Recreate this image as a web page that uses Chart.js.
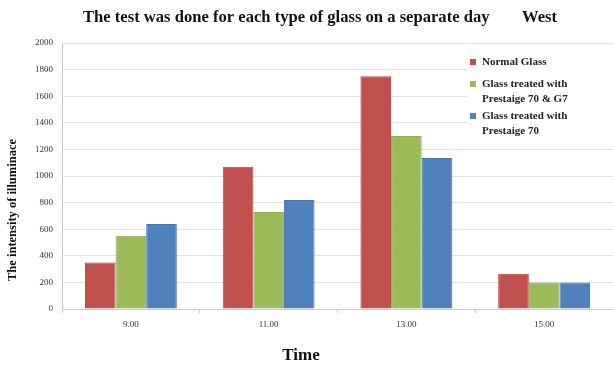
<!DOCTYPE html>
<html>
<head>
<meta charset="utf-8">
<script src="https://cdn.jsdelivr.net/npm/chart.js@4/dist/chart.umd.min.js"></script>
<style>
  html, body { margin: 0; padding: 0; background: #ffffff; }
  canvas { display: block; }
</style>
</head>
<body>
<canvas id="chart" width="613" height="368"></canvas>
<script>
// Time of measurement (x categories)
const categories = ['9.00', '11.00', '13.00', '15.00'];

// Illuminance readings per glass type
const normalGlass = [350, 1070, 1750, 265];
const treatedP70G7 = [550, 730, 1300, 200];
const treatedP70 = [640, 820, 1135, 200];

// Series names, split into the lines shown in the legend
const seriesNames = [
  ['Normal Glass'],
  ['Glass treated with', 'Prestaige 70 & G7'],
  ['Glass treated with', 'Prestaige 70']
];

// Y axis range and tick step
const yMin = 0;
const yMax = 2000;
const yStep = 200;

const titleText = 'The test was done for each type of glass on a separate day';
const titleSide = 'West';
const xTitle = 'Time';
const yTitle = 'The intensity of illuminace';

const colors = ['#C0504D', '#9BBB59', '#4F81BD'];
const borders = ['#b04642', '#8eae4d', '#4675ae'];
const serif = '"Liberation Serif", "Times New Roman", serif';

// Titles drawn around the plot
const textPlugin = {
  id: 'chartTexts',
  afterDraw(chart) {
    const ctx = chart.ctx;
    ctx.save();
    ctx.fillStyle = '#111';
    ctx.textBaseline = 'middle';
    ctx.textAlign = 'left';
    ctx.font = 'bold 16.6px ' + serif;
    ctx.fillText(titleText, 83, 18);
    ctx.fillText(titleSide, 522, 18);

    ctx.textAlign = 'center';
    ctx.font = 'bold 17px ' + serif;
    ctx.fillText(xTitle, 301, 356);

    ctx.translate(13, 210);
    ctx.rotate(-Math.PI / 2);
    ctx.font = 'bold 12.5px ' + serif;
    ctx.fillText(yTitle, 0, 0);
    ctx.restore();
  }
};

// Legend box in the upper right of the plot
const legendPlugin = {
  id: 'boxLegend',
  afterDatasetsDraw(chart) {
    const ctx = chart.ctx;
    ctx.save();
    ctx.fillStyle = '#ffffff';
    ctx.fillRect(467, 48, 146, 94);
    ctx.font = 'bold 11px ' + serif;
    ctx.textBaseline = 'middle';
    ctx.textAlign = 'left';
    const tops = [62, 84, 116];
    chart.data.datasets.forEach((ds, i) => {
      const y = tops[i];
      ctx.fillStyle = ds.backgroundColor;
      ctx.fillRect(470, y - 3, 6, 6);
      ctx.fillStyle = '#222';
      seriesNames[i].forEach((line, j) => {
        ctx.fillText(line, 482, y + j * 15);
      });
    });
    ctx.restore();
  }
};

const datasets = [normalGlass, treatedP70G7, treatedP70].map((values, i) => ({
  label: seriesNames[i].join(' '),
  data: values,
  backgroundColor: colors[i],
  borderColor: borders[i],
  borderWidth: 1,
  barPercentage: 1.0,
  categoryPercentage: 0.667
}));

new Chart(document.getElementById('chart'), {
  type: 'bar',
  data: { labels: categories, datasets },
  options: {
    responsive: false,
    animation: false,
    devicePixelRatio: 1,
    layout: { padding: { top: 43, left: 0, right: 0, bottom: 0 } },
    plugins: {
      legend: { display: false },
      title: { display: false },
      tooltip: { enabled: false }
    },
    scales: {
      x: {
        offset: true,
        grid: { display: true, drawOnChartArea: false, drawTicks: true, tickLength: 4, color: '#cfcfcf' },
        border: { color: '#c8c8c8' },
        ticks: { font: { family: serif, size: 9 }, color: '#333', padding: 6 },
        afterFit(scale) { scale.height = 59; }
      },
      y: {
        min: yMin,
        max: yMax,
        grid: { color: '#e0e0e0', drawTicks: false },
        border: { color: '#c8c8c8' },
        ticks: {
          stepSize: yStep,
          font: { family: serif, size: 9 },
          color: '#333',
          padding: 9,
          callback: (value) => String(value)
        },
        afterFit(scale) { scale.width = 62; }
      }
    }
  },
  plugins: [legendPlugin, textPlugin]
});
</script>
</body>
</html>
